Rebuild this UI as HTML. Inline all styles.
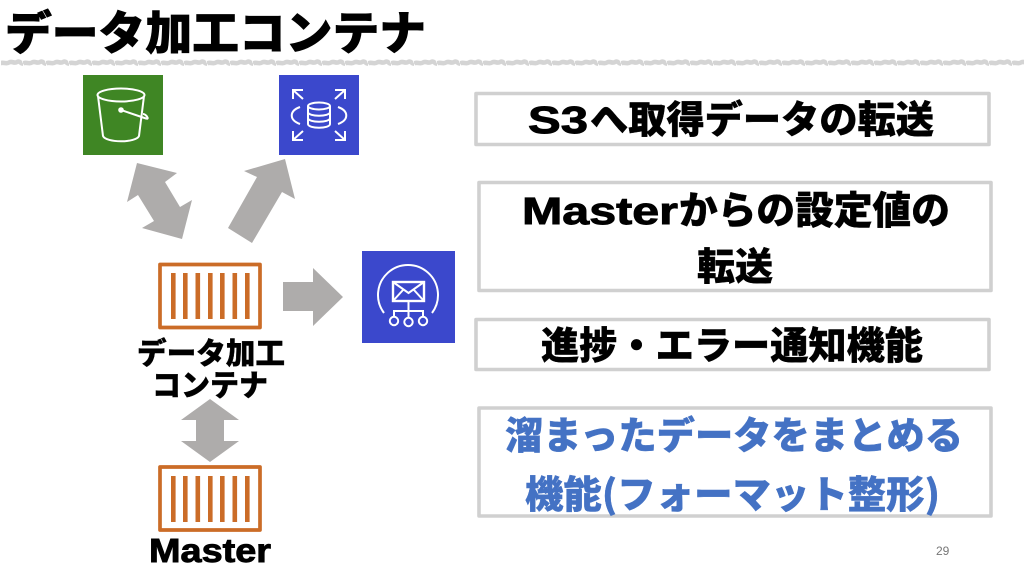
<!DOCTYPE html>
<html><head><meta charset="utf-8"><style>
html,body{margin:0;padding:0;background:#fff;width:1024px;height:576px;overflow:hidden}
svg{display:block}
text{font-family:"Noto Sans CJK JP",sans-serif;font-weight:900;stroke:currentColor;stroke-width:.4}
.l{font-family:"Liberation Sans","Noto Sans CJK JP",sans-serif;font-weight:700;stroke-width:.9}
.b{fill:none;stroke:#d0d0d0;stroke-width:3.6;stroke-linejoin:round}
.c{fill:none;stroke:#cb6c27;stroke-width:3.7;stroke-linejoin:round}
.w{fill:none;stroke:#fff;stroke-width:2}
</style></head><body>
<svg width="1024" height="576" viewBox="0 0 1024 576" xmlns="http://www.w3.org/2000/svg">
<defs>
<pattern id="sq" width="23" height="8" patternUnits="userSpaceOnUse" x="0" y="59">
<path d="M0 4.500C3 2.500 6 5.500 9 3.500S14 5 17 3S21 5.500 23 4.500" fill="none" stroke="#d4d4d4" stroke-width="4.600"/>
</pattern>
</defs>
<rect width="1024" height="576" fill="#fff"/>
<text x="5" y="49.500" font-size="46" textLength="421" lengthAdjust="spacingAndGlyphs" style="stroke-width:.8">データ加工コンテナ</text>
<rect x="1" y="59" width="1023" height="8" fill="url(#sq)"/>

<rect x="83" y="75" width="80" height="80" fill="#3f8624"/>
<g class="w">
<ellipse cx="121" cy="95" rx="23.500" ry="6.500"/>
<path d="M98 96L103 136C106 143 136 143 139 136L144 96"/>
<path d="M121 110L146 118.500C150 120 146 114 143 114"/>
<circle cx="121" cy="110" r="1.800" fill="#fff"/>
</g>

<rect x="279" y="75" width="80" height="80" fill="#3b48cc"/>
<g class="w">
<ellipse cx="319" cy="106" rx="11" ry="3.500"/>
<path d="M308 106V124C308 129 330 129 330 124V106M308 112C308 117 330 117 330 112M308 118C308 123 330 123 330 118"/>
<path d="M300 107C289 111 289 120 300 124M338 107C349 111 349 120 338 124"/>
<path d="M293 90L303 99M293 99V90H303M345 90L335 99M335 90H345V99M293 140L303 131M293 131V140H303M345 140L335 131M345 131V140H335"/>
</g>

<rect x="362" y="251" width="93" height="92" fill="#3b48cc"/>
<g class="w">
<path d="M384 313A30 30 0 1 1 432 313"/>
<rect x="393" y="282" width="31" height="19" stroke-width="2.400"/>
<path d="M393 282L408.500 293L424 282M393 301L403 290M424 301L414 290"/>
<path d="M408.500 301V317M394 316V311H423V316"/>
<circle cx="394" cy="321" r="4.200"/><circle cx="408.500" cy="322" r="4.200"/><circle cx="423" cy="321" r="4.200"/>
</g>

<g fill="#aeacab">
<polygon points="137,163 177,173 165,182 180,207 192,200 182,239 142,228 154,221 138,195 127,202"/>
<polygon points="285,159 295,199 282,192 252,243 228,228 257,177 244,171"/>
<polygon points="283,282 313,282 313,268 343,297 313,326 313,311 283,311"/>
<polygon points="210,399 239,420 224,420 224,441 239,441 210,462 181,441 196,441 196,420 181,420"/>
</g>

<rect class="c" x="160" y="264.500" width="100" height="63"/>
<g fill="#cb6c27">
<rect x="171" y="273" width="4.600" height="46"/><rect x="183" y="273" width="4.600" height="46"/><rect x="195.500" y="273" width="4.600" height="46"/><rect x="208" y="273" width="4.600" height="46"/><rect x="220" y="273" width="4.600" height="46"/><rect x="232.500" y="273" width="4.600" height="46"/><rect x="245" y="273" width="4.600" height="46"/>
</g>
<rect class="c" x="160" y="467" width="100" height="63"/>
<g fill="#cb6c27">
<rect x="171" y="476" width="4.600" height="46"/><rect x="183" y="476" width="4.600" height="46"/><rect x="195.500" y="476" width="4.600" height="46"/><rect x="208" y="476" width="4.600" height="46"/><rect x="220" y="476" width="4.600" height="46"/><rect x="232.500" y="476" width="4.600" height="46"/><rect x="245" y="476" width="4.600" height="46"/>
</g>

<text x="137" y="364" font-size="30" textLength="148" lengthAdjust="spacingAndGlyphs">データ加工</text>
<text x="152" y="396" font-size="30" textLength="116" lengthAdjust="spacingAndGlyphs">コンテナ</text>
<text class="l" x="149" y="562" font-size="33" textLength="122" lengthAdjust="spacingAndGlyphs">Master</text>

<rect class="b" x="476" y="93.500" width="513" height="51"/>
<rect class="b" x="479" y="182.500" width="512" height="108"/>
<rect class="b" x="476" y="319.500" width="513" height="50"/>
<rect class="b" x="479" y="408" width="512" height="108"/>

<text class="l" x="528" y="133" font-size="38" textLength="60" lengthAdjust="spacingAndGlyphs">S3</text>
<text x="590" y="133" font-size="38" textLength="344" lengthAdjust="spacingAndGlyphs">へ取得データの転送</text>
<text class="l" x="522" y="224" font-size="38" textLength="156" lengthAdjust="spacingAndGlyphs">Master</text>
<text x="679" y="224" font-size="38.500" textLength="271" lengthAdjust="spacingAndGlyphs">からの設定値の</text>
<text x="697" y="280" font-size="38" textLength="76" lengthAdjust="spacingAndGlyphs">転送</text>
<text x="541" y="359" font-size="38" textLength="382" lengthAdjust="spacingAndGlyphs">進捗・エラー通知機能</text>
<g fill="#4472c4" color="#4472c4">
<text x="505" y="449" font-size="38" textLength="458" lengthAdjust="spacingAndGlyphs">溜まったデータをまとめる</text>
<text x="525" y="508" font-size="38" textLength="415" lengthAdjust="spacingAndGlyphs">機能(フォーマット整形)</text>
</g>
<text x="936" y="555" font-size="12" style="font-family:'Liberation Sans',sans-serif;font-weight:400;stroke:none" fill="#777">29</text>
</svg>
</body></html>
